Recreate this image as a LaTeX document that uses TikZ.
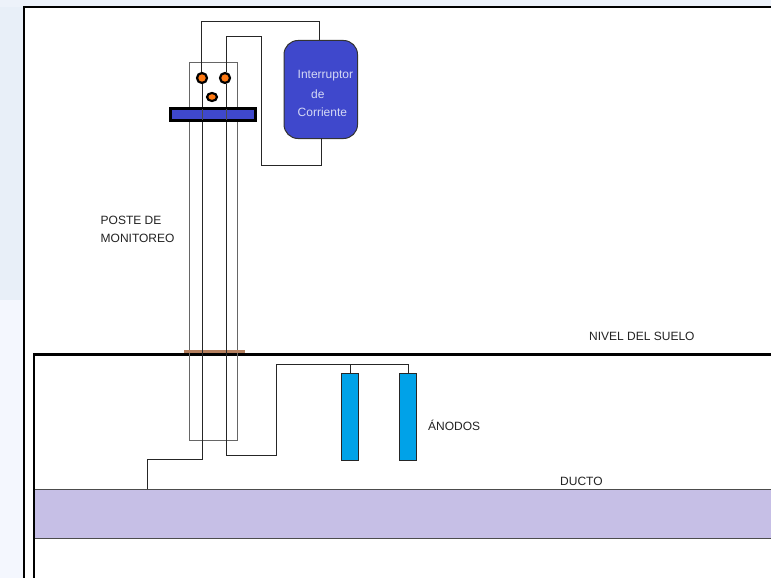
\documentclass[tikz,border=0pt]{standalone}
\usepackage{fontspec}
\setmainfont{Liberation Sans}
\usetikzlibrary{shapes.misc,shapes.geometric,calc}
\definecolor{bgblue}{HTML}{E8EFF8}
\definecolor{bgpale}{HTML}{F4F7FE}
\definecolor{boxblue}{HTML}{3F48CC}
\definecolor{boxtext}{HTML}{D5D9F5}
\definecolor{duct}{HTML}{C6BFE6}
\definecolor{anode}{HTML}{00A2E8}
\definecolor{term}{HTML}{FF7A14}
\definecolor{collar}{HTML}{B5805F}
\definecolor{labeltext}{HTML}{222222}
\tikzset{
  wire/.style={draw=black!85,line width=1pt},
  post/.style={draw=black!60,line width=1.2pt},
  lbl/.style={font=\fontsize{12}{18}\selectfont,text=labeltext,inner sep=0pt,align=left},
  terminal/.style={circle,draw=black,fill=term,line width=2.2pt,minimum size=10pt,inner sep=0pt},
  anodebody/.style={chamfered rectangle,chamfered rectangle xsep=2pt,chamfered rectangle ysep=2.5pt,draw=black!85,fill=anode,line width=1pt,minimum width=17.5pt,minimum height=87pt,inner sep=0pt}
}
\begin{document}
\begin{tikzpicture}[x=1pt,y=-1pt]
\useasboundingbox (0,0) rectangle (771,578);
% page background
\fill[bgpale] (0,0) rectangle (771,578);
\fill[bgblue] (0,0) rectangle (24,300);
\fill[bgblue!60!bgpale] (0,0) rectangle (771,7);
\fill[white] (24,7) rectangle (771,578);
% sheet frame
\draw[black,line width=2pt] (24,578) -- (24,7) -- (771,7);
% duct
\node[draw=black!70,fill=duct,line width=1pt,minimum width=737pt,minimum height=49pt,anchor=north west,inner sep=0pt] (ducto) at (34,489) {};
% ground
\coordinate (gl) at (33,354);
\coordinate (gr) at (771,354);
\coordinate (gb) at (34,578);
\draw[black,line width=1.2pt] (34,354) -- (gb);
\draw[black,line width=3pt] (gl) -- (gr);
% post
\node[post,minimum width=48pt,minimum height=378pt,anchor=north west,inner sep=0pt] (poste) at (189,62) {};
\draw[collar,line width=2.2pt] (184,351.5) coordinate (ca) -- (245,351.5) coordinate (cb);
% switch
\node[draw=black!80,fill=boxblue,rounded corners=14pt,line width=1pt,minimum width=73.5pt,minimum height=98pt,anchor=north west,inner sep=0pt] (switch) at (283.5,40) {};
\node[lbl,text=boxtext,anchor=west] (t1) at (297.5,76) {Interruptor};
\node[lbl,text=boxtext,anchor=west] (t2) at (311,94) {de};
\node[lbl,text=boxtext,anchor=west] (t3) at (297.5,112) {Corriente};
% terminals
\node[terminal] (ta) at (202,78) {};
\node[terminal] (tb) at (225,78) {};
\node[ellipse,draw=black,fill=term,line width=2.2pt,inner sep=0pt,minimum width=10pt,minimum height=8pt] (tc) at (212,97) {};
% anodes
\node[anodebody] (a1) at (350.2,416.5) {};
\node[anodebody] (a2) at (408,416.5) {};
% wires
\coordinate (s1) at (319.5,40);
\coordinate (s2) at (321,138);
\coordinate (d1) at (147,489);
\draw[wire] (s1) -- (319.5,22) -- (201.3,22) -- (201.3,72);
\draw[wire] (s2) -- (321,165.5) -- (261.3,165.5) -- (261.3,36.5) -- (226.3,36.5) -- (226.3,72);
\draw[wire] (202,84) -- (202,459) -- (147,459) -- (d1);
\draw[wire] (226,84) -- (226,455) -- (276,455) -- (276,364.5) -- (408,364.5) -- (a2.north);
\draw[wire] (350.2,364.5) -- (a1.north);
% bar over post and wires
\node[draw=black,fill=boxblue,line width=2.6pt,minimum width=85pt,minimum height=12pt,inner sep=0pt,anchor=center] (bar) at (213,114.5) {};
\draw[black!70,line width=.8pt] (202,109) -- (202,120) (226,109) -- (226,120);
% labels
\node[lbl,anchor=north west] (lp) at (100.5,216) {POSTE DE\\MONITOREO};
\node[lbl,anchor=west] (ls) at (589,336.5) {NIVEL DEL SUELO};
\node[lbl,anchor=west] (la) at (428,425) {ÁNODOS};
\node[lbl,anchor=west] (ld) at (560,481) {DUCTO};
\end{tikzpicture}
\end{document}
